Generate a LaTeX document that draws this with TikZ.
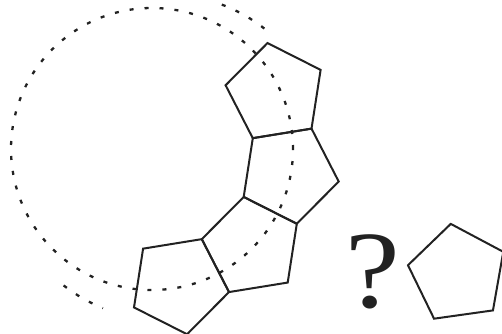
\documentclass[tikz,border=0pt]{standalone}
\usepackage{fontspec}
\setmainfont{Liberation Serif}
\usetikzlibrary{shapes.geometric}
\definecolor{inkgray}{RGB}{34, 34, 34}

\begin{document}
\begin{tikzpicture}[x=1pt, y=1pt,
    pent/.style={regular polygon, regular polygon sides=5, minimum size=101.2pt,
        inner sep=0pt, draw=inkgray, line width=2pt},
    trail/.style={draw=inkgray, line width=2.3pt, dash pattern=on 4pt off 11pt}]
    \useasboundingbox (0,0) rectangle (502,333);
    % rolling path
    \draw[trail] (152,184) circle[radius=141];
    \draw[trail] (164,176) ++(52:163) arc[start angle=52, end angle=72, radius=163];
    \draw[trail] (164,176) ++(232:163) arc[start angle=232, end angle=248, radius=163];
    % chain of pentagons
    \node[pent, rotate=9.2] (pa) at (275.6,240) {};
    \node[pent, rotate=-26.8] (pb) at (288.7,159.2) {};
    \node[pent, rotate=9.2] (pc) at (251.8,86.1) {};
    \node[pent, rotate=-26.8] (pd) at (179,48.7) {};
    % question
    \node[anchor=base, inner sep=0pt, text=inkgray, xscale=1.12, transform shape,
        font=\fontsize{110}{110}\selectfont] (ask) at (373,26) {?};
    \node[pent, rotate=8] (pe) at (457.8,59) {};
\end{tikzpicture}
\end{document}
